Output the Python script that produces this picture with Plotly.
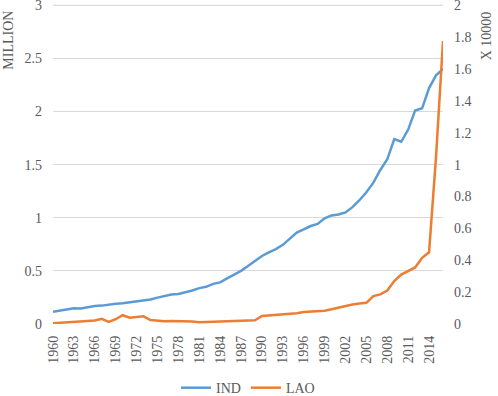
import plotly.graph_objects as go

years = list(range(1960, 2017))
ind_million = [0.116, 0.125, 0.137, 0.148, 0.146, 0.160, 0.170, 0.173, 0.185, 0.190,
               0.195, 0.205, 0.213, 0.222, 0.230, 0.248, 0.262, 0.277, 0.282, 0.296,
               0.315, 0.338, 0.350, 0.378, 0.392, 0.430, 0.462, 0.500, 0.545, 0.595,
               0.640, 0.675, 0.705, 0.745, 0.800, 0.860, 0.890, 0.922, 0.942, 0.995,
               1.022, 1.030, 1.050, 1.100, 1.165, 1.240, 1.330, 1.450, 1.550, 1.740,
               1.715, 1.830, 2.010, 2.030, 2.220, 2.340, 2.400]
lao_x10000 = [0.005, 0.008, 0.010, 0.012, 0.014, 0.018, 0.022, 0.033, 0.013, 0.030,
              0.055, 0.040, 0.044, 0.048, 0.025, 0.020, 0.018, 0.019, 0.019, 0.019,
              0.015, 0.011, 0.012, 0.014, 0.016, 0.017, 0.018, 0.019, 0.020, 0.023,
              0.050, 0.054, 0.058, 0.060, 0.062, 0.068, 0.075, 0.079, 0.081, 0.083,
              0.092, 0.103, 0.114, 0.122, 0.128, 0.133, 0.175, 0.186, 0.210, 0.270,
              0.310, 0.330, 0.355, 0.415, 0.450, 1.050, 1.775]
tick_years = [str(y) for y in range(1960, 2015, 3)]
left_ticks = [0, 0.5, 1, 1.5, 2, 2.5, 3]
right_ticks = [0, 0.2, 0.4, 0.6, 0.8, 1, 1.2, 1.4, 1.6, 1.8, 2]

cats = [str(y) for y in years]
font_family = "Liberation Serif"
grey = "#595959"
grid_color = "#d9d9d9"

fig = go.Figure()
fig.add_trace(go.Scatter(x=cats, y=ind_million, name="IND", mode="lines",
                         line=dict(color="#5B9BD5", width=2.5)))
fig.add_trace(go.Scatter(x=cats, y=lao_x10000, name="LAO", mode="lines", yaxis="y2",
                         line=dict(color="#ED7D31", width=2.5)))

fig.update_layout(
    width=498, height=396,
    margin=dict(l=53, r=55, t=1, b=72),
    paper_bgcolor="white", plot_bgcolor="white",
    font=dict(family=font_family, size=14, color=grey),
    showlegend=True,
    legend=dict(orientation="h", x=0.5, xanchor="center", xref="paper",
                yref="container", y=0.02, yanchor="middle",
                font=dict(size=14, color=grey), itemwidth=30),
    xaxis=dict(type="category", categoryorder="array", categoryarray=cats,
               tickmode="array", tickvals=tick_years, ticktext=tick_years,
               tickangle=-90, showgrid=False, zeroline=False, showline=False,
               ticks="", ticklabelstandoff=8, automargin=False),
    yaxis=dict(range=[0, 3.04], tickmode="array", tickvals=left_ticks,
               ticktext=[f"{v:g}" for v in left_ticks],
               showgrid=True, gridcolor=grid_color, gridwidth=1,
               zeroline=False, showline=False, ticks="", ticklabelstandoff=10,
               ticklabeloverflow="allow", automargin=False),
    yaxis2=dict(range=[0, 2.0267], tickmode="array", tickvals=right_ticks,
                ticktext=[f"{v:g}" for v in right_ticks],
                overlaying="y", side="right", showgrid=False,
                zeroline=False, showline=False, ticks="", ticklabelstandoff=10,
                ticklabeloverflow="allow", automargin=False),
    shapes=[dict(type="line", xref="paper", yref="y", x0=0, x1=1,
                 y0=left_ticks[-1], y1=left_ticks[-1], layer="below",
                 line=dict(color=grid_color, width=1))],
    annotations=[
        dict(text="MILLION", xref="paper", yref="paper", x=-0.115, y=0.975,
             xanchor="center", yanchor="top", textangle=-90, showarrow=False,
             font=dict(size=14, color=grey)),
        dict(text="X 10000", xref="paper", yref="paper", x=1.112, y=0.975,
             xanchor="center", yanchor="top", textangle=-90, showarrow=False,
             font=dict(size=14, color=grey)),
    ],
)

fig.write_html("out.html", config={"displayModeBar": False},
               post_script="document.body.style.margin='0';")
